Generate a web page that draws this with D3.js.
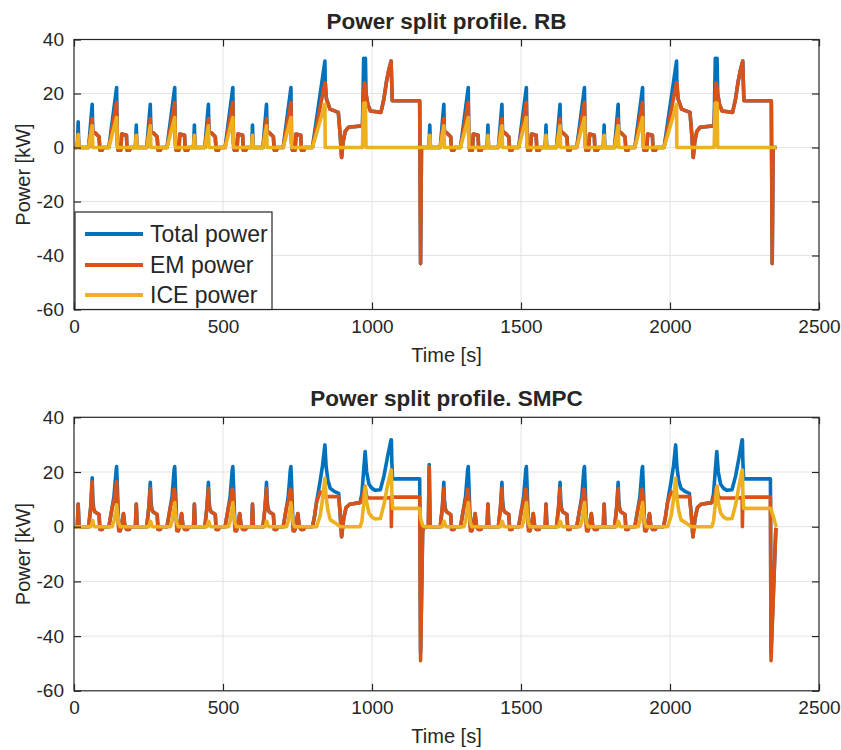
<!DOCTYPE html>
<html>
<head>
<meta charset="utf-8">
<script src="https://cdn.jsdelivr.net/npm/d3@7"></script>
<style>
  html, body { margin: 0; padding: 0; background: #ffffff; }
  svg { display: block; }
  text { font-family: "Liberation Sans", Arial, Helvetica, sans-serif; fill: #262626; }
</style>
</head>
<body>
<svg id="chart" width="841" height="750"></svg>
<script>
// ---------------- DATA ----------------
const xTicks = [0, 500, 1000, 1500, 2000, 2500];
const yTicks = [-60, -40, -20, 0, 20, 40];
const seriesNames = ["Total power", "EM power", "ICE power"];
const seriesColors = ["#0072BD", "#D95319", "#EDB120"];
const titles = ["Power split profile. RB", "Power split profile. SMPC"];

// ----- Rule based (RB) strategy: time [s] and power [kW]
const rbTime = [
  0,11,14,16,49,61,63,70,84,87,95,97,117,143,145,148,157,160,176,178,187,189,
  206,209,211,244,256,258,265,279,282,290,292,312,338,340,343,352,355,371,373,382,384,
  401,404,406,439,451,453,460,474,477,485,487,507,533,535,538,547,550,566,568,577,579,
  596,599,601,634,646,648,655,669,672,680,682,702,728,730,733,742,745,761,763,772,774,
  800,842,843,847,859,887,893,898,903,910,921,966,968,972,975,978,980,986,995,1030,1040,1048,1056,1064,1068,1160,1163,1166,
  1191,1194,1196,1229,1241,1243,1250,1264,1267,1275,1277,1297,1323,1325,1328,1337,1340,1356,1358,1367,1369,
  1386,1389,1391,1424,1436,1438,1445,1459,1462,1470,1472,1492,1518,1520,1523,1532,1535,1551,1553,1562,1564,
  1581,1584,1586,1619,1631,1633,1640,1654,1657,1665,1667,1687,1713,1715,1718,1727,1730,1746,1748,1757,1759,
  1776,1779,1781,1814,1826,1828,1835,1849,1852,1860,1862,1882,1908,1910,1913,1922,1925,1941,1943,1952,1954,
  1980,2022,2023,2027,2039,2067,2073,2078,2083,2090,2101,2146,2148,2152,2155,2158,2160,2166,2175,2210,2220,2228,2236,2244,2248,2340,2343,2346,2358
];
const rbTotal = [
  0,0,9.5,0,0,16,6,5.5,4,-1,-1,0,0,22.2,2,-1,-1,5,4.5,-1,-1,0,
  0,8.3,0,0,16,6,5.5,4,-1,-1,0,0,22.2,2,-1,-1,5,4.5,-1,-1,0,
  0,8.3,0,0,16,6,5.5,4,-1,-1,0,0,22.2,2,-1,-1,5,4.5,-1,-1,0,
  0,8.3,0,0,16,6,5.5,4,-1,-1,0,0,22.2,2,-1,-1,5,4.5,-1,-1,0,
  0,32,24,18,14.2,13,5,-3.7,2,6,7.5,8,8,33,31,33,20,16,13.5,13,18,24,28.5,32,17.3,17.3,-43,0,
  0,8.3,0,0,16,6,5.5,4,-1,-1,0,0,22.2,2,-1,-1,5,4.5,-1,-1,0,
  0,8.3,0,0,16,6,5.5,4,-1,-1,0,0,22.2,2,-1,-1,5,4.5,-1,-1,0,
  0,8.3,0,0,16,6,5.5,4,-1,-1,0,0,22.2,2,-1,-1,5,4.5,-1,-1,0,
  0,8.3,0,0,16,6,5.5,4,-1,-1,0,0,22.2,2,-1,-1,5,4.5,-1,-1,0,
  0,32,24,18,14.2,13,5,-3.7,2,6,7.5,8,8,33,31,33,20,16,13.5,13,18,24,28.5,32,17.3,17.3,-43,0,0
];
const rbEM = [
  0,0,5,0,0,10.7,6,5.5,4,-1,-1,0,0,16.7,2,-1,-1,5,4.5,-1,-1,0,
  0,4.5,0,0,10.7,6,5.5,4,-1,-1,0,0,16.7,2,-1,-1,5,4.5,-1,-1,0,
  0,4.5,0,0,10.7,6,5.5,4,-1,-1,0,0,16.7,2,-1,-1,5,4.5,-1,-1,0,
  0,4.5,0,0,10.7,6,5.5,4,-1,-1,0,0,16.7,2,-1,-1,5,4.5,-1,-1,0,
  0,24,24,18,14.2,13,5,-3.7,2,6,7.5,8,8,20,24,22,20,16,13.5,13,18,24,28.5,32,17.3,17.3,-43,0,
  0,4.5,0,0,10.7,6,5.5,4,-1,-1,0,0,16.7,2,-1,-1,5,4.5,-1,-1,0,
  0,4.5,0,0,10.7,6,5.5,4,-1,-1,0,0,16.7,2,-1,-1,5,4.5,-1,-1,0,
  0,4.5,0,0,10.7,6,5.5,4,-1,-1,0,0,16.7,2,-1,-1,5,4.5,-1,-1,0,
  0,4.5,0,0,10.7,6,5.5,4,-1,-1,0,0,16.7,2,-1,-1,5,4.5,-1,-1,0,
  0,24,24,18,14.2,13,5,-3.7,2,6,7.5,8,8,20,24,22,20,16,13.5,13,18,24,28.5,32,17.3,17.3,-43,0,0
];
const rbICE = [
  0,0,4.8,0,0,8,0,0,0,0,0,0,0,11.1,0,0,0,0,0,0,0,0,
  0,4.5,0,0,8,0,0,0,0,0,0,0,11.1,0,0,0,0,0,0,0,0,
  0,4.5,0,0,8,0,0,0,0,0,0,0,11.1,0,0,0,0,0,0,0,0,
  0,4.5,0,0,8,0,0,0,0,0,0,0,11.1,0,0,0,0,0,0,0,0,
  0,16,0,0,0,0,0,0,0,0,0,0,0,16.5,16.5,16.5,0,0,0,0,0,0,0,0,0,0,0,0,
  0,4.5,0,0,8,0,0,0,0,0,0,0,11.1,0,0,0,0,0,0,0,0,
  0,4.5,0,0,8,0,0,0,0,0,0,0,11.1,0,0,0,0,0,0,0,0,
  0,4.5,0,0,8,0,0,0,0,0,0,0,11.1,0,0,0,0,0,0,0,0,
  0,4.5,0,0,8,0,0,0,0,0,0,0,11.1,0,0,0,0,0,0,0,0,
  0,16,0,0,0,0,0,0,0,0,0,0,0,16.5,16.5,16.5,0,0,0,0,0,0,0,0,0,0,0,0,0
];

// ----- Stochastic MPC (SMPC) strategy: time [s] and power [kW]
const smpcTime = [
  0,11,14,17,49,56,61,63,66,70,84,87,95,97,117,128,134,141,143,146,150,155,159,166,171,177,186,188,
  206,209,212,244,251,256,258,261,265,279,282,290,292,312,323,329,336,338,341,345,350,354,361,366,372,381,383,
  401,404,407,439,446,451,453,456,460,474,477,485,487,507,518,524,531,533,536,540,545,549,556,561,567,576,578,
  596,599,602,634,641,646,648,651,655,669,672,680,682,702,713,719,726,728,731,735,740,744,751,756,762,771,773,
  800,806,814,826,834,842,846,852,860,875,888,893,898,905,913,925,960,966,972,977,982,990,1000,1011,1028,1040,1052,1064,1065,1066.5,1069,1160,1163,1170,1176,
  1189,1192,1195,1229,1236,1241,1243,1246,1250,1264,1267,1275,1277,1297,1308,1314,1321,1323,1326,1330,1335,1339,1346,1351,1357,1366,1368,
  1386,1389,1392,1424,1431,1436,1438,1441,1445,1459,1462,1470,1472,1492,1503,1509,1516,1518,1521,1525,1530,1534,1541,1546,1552,1561,1563,
  1581,1584,1587,1619,1626,1631,1633,1636,1640,1654,1657,1665,1667,1687,1698,1704,1711,1713,1716,1720,1725,1729,1736,1741,1747,1756,1758,
  1776,1779,1782,1814,1821,1826,1828,1831,1835,1849,1852,1860,1862,1882,1893,1899,1906,1908,1911,1915,1920,1924,1931,1936,1942,1951,1953,
  1978,1984,1992,2004,2012,2019,2023,2029,2037,2052,2065,2071,2077,2084,2092,2104,2140,2146,2152,2157,2162,2170,2180,2191,2208,2220,2232,2242,2243,2244.5,2247,2337,2339,2355,2358
];
const smpcTotal = [
  0,0,8.3,0,0,7,17.9,10,6.7,5.5,4.5,-1,-1,0,0,7,11,20,22,13,0,-1.5,0,4.8,0,-1,-1,0,
  0,8.3,0,0,7,16.2,9.8,6.7,5.5,4.5,-1,-1,0,0,7,11,20.8,22,13,0,-1.5,0,4.8,0,-1,-1,0,
  0,8.3,0,0,7,16.2,9.8,6.7,5.5,4.5,-1,-1,0,0,7,11,20.8,22,13,0,-1.5,0,4.8,0,-1,-1,0,
  0,8.3,0,0,7,16.2,9.8,6.7,5.5,4.5,-1,-1,0,0,7,11,20.8,22,13,0,-1.5,0,4.8,0,-1,-1,0,
  0,3,9,16.7,22.4,29.9,22,17,14,12.8,12.2,5,-3.7,3,7,8.2,8.8,12,20.5,27.5,20,15.5,14,13.3,13.5,18.5,25.5,31.8,31.8,24,17.5,17.5,-46,-1.5,0,
  0,22.7,0,0,7,16.2,9.8,6.7,5.5,4.5,-1,-1,0,0,7,11,20.8,22,13,0,-1.5,0,4.8,0,-1,-1,0,
  0,8.3,0,0,7,16.2,9.8,6.7,5.5,4.5,-1,-1,0,0,7,11,20.8,22,13,0,-1.5,0,4.8,0,-1,-1,0,
  0,8.3,0,0,7,16.2,9.8,6.7,5.5,4.5,-1,-1,0,0,7,11,20.8,22,13,0,-1.5,0,4.8,0,-1,-1,0,
  0,8.3,0,0,7,16.2,9.8,6.7,5.5,4.5,-1,-1,0,0,7,11,20.8,22,13,0,-1.5,0,4.8,0,-1,-1,0,
  0,3,9,16.7,22.4,29.9,22,17,14,12.8,12.2,5,-3.7,3,7,8.2,8.8,12,20.5,27.5,20,15.5,14,13.3,13.5,18.5,25.5,31.8,31.8,24,17.5,17.5,-46,-1.2,-0.5
];
const smpcEM = [
  0,0,8.3,0,0,7,16.4,8,6.2,5.5,4.5,-1,-1,0,0,7,9,15,16.5,8,-1.5,-1.5,0,4.8,0,-1,-1,0,
  0,8.3,0,0,7,14,8,6.2,5.5,4.5,-1,-1,0,0,7,9,13.8,13.2,8,-1.5,-1.5,0,4.8,0,-1,-1,0,
  0,8.3,0,0,7,14,8,6.2,5.5,4.5,-1,-1,0,0,7,9,13.8,13.2,8,-1.5,-1.5,0,4.8,0,-1,-1,0,
  0,8.3,0,0,7,14,8,6.2,5.5,4.5,-1,-1,0,0,7,9,13.8,13.2,8,-1.5,-1.5,0,4.8,0,-1,-1,0,
  0,3,9,12.7,12.4,12,11,11,11,11,11,5,-3.7,3,7,8.2,8.8,10,12.5,14.8,11,10.5,10.5,10.5,10.5,10.5,10.5,10.8,0,10.8,10.8,10.8,-49,-1.5,0,
  0,22,0,0,7,14,8,6.2,5.5,4.5,-1,-1,0,0,7,9,13.8,13.2,8,-1.5,-1.5,0,4.8,0,-1,-1,0,
  0,8.3,0,0,7,14,8,6.2,5.5,4.5,-1,-1,0,0,7,9,13.8,13.2,8,-1.5,-1.5,0,4.8,0,-1,-1,0,
  0,8.3,0,0,7,14,8,6.2,5.5,4.5,-1,-1,0,0,7,9,13.8,13.2,8,-1.5,-1.5,0,4.8,0,-1,-1,0,
  0,8.3,0,0,7,14,8,6.2,5.5,4.5,-1,-1,0,0,7,9,13.8,13.2,8,-1.5,-1.5,0,4.8,0,-1,-1,0,
  0,3,9,12.7,12.4,12,11,11,11,11,11,5,-3.7,3,7,8.2,8.8,10,12.5,14.8,11,10.5,10.5,10.5,10.5,10.5,10.5,10.8,0,10.8,10.8,10.8,-49,-1.2,-0.5
];
const smpcICE = [
  0,0,0,0,0,0,1.5,2.2,0.5,0,0,0,0,0,0,0,2,6,8,5,1.5,0,0,0,0,0,0,0,
  0,0,0,0,0,2,1.8,0.5,0,0,0,0,0,0,0,2,7,8.8,5,1.5,0,0,0,0,0,0,0,
  0,0,0,0,0,2,1.8,0.5,0,0,0,0,0,0,0,2,7,8.8,5,1.5,0,0,0,0,0,0,0,
  0,0,0,0,0,2,1.8,0.5,0,0,0,0,0,0,0,2,7,8.8,5,1.5,0,0,0,0,0,0,0,
  0,0,0,4,10,17.7,11,6,2.5,1.5,0.5,0,0,0,0,0,0,2,8,14.6,9,5,3.5,2.8,3,8,15,20.7,20.7,13,6.7,6.7,3,0.5,0,
  0,0,0,0,0,2,1.8,0.5,0,0,0,0,0,0,0,2,7,8.8,5,1.5,0,0,0,0,0,0,0,
  0,0,0,0,0,2,1.8,0.5,0,0,0,0,0,0,0,2,7,8.8,5,1.5,0,0,0,0,0,0,0,
  0,0,0,0,0,2,1.8,0.5,0,0,0,0,0,0,0,2,7,8.8,5,1.5,0,0,0,0,0,0,0,
  0,0,0,0,0,2,1.8,0.5,0,0,0,0,0,0,0,2,7,8.8,5,1.5,0,0,0,0,0,0,0,
  0,0,0,4,10,17.7,11,6,2.5,1.5,0.5,0,0,0,0,0,0,2,8,14.6,9,5,3.5,2.8,3,8,15,20.7,20.7,13,6.7,6.7,6.5,0.5,0
];

// ---------------- DRAWING ----------------
const svg = d3.select("#chart");
const panels = [
  { title: titles[0], top: 39.5, bottom: 309.5, time: rbTime, series: [rbTotal, rbEM, rbICE], legend: true },
  { title: titles[1], top: 417.3, bottom: 690.8, time: smpcTime, series: [smpcTotal, smpcEM, smpcICE], legend: false }
];
const left = 74, right = 819;
const axisColor = "#262626";
const gridColor = "#e3e3e3";

panels.forEach((p, pi) => {
  const x = d3.scaleLinear().domain([0, 2500]).range([left, right]);
  const y = d3.scaleLinear().domain([-60, 40]).range([p.bottom, p.top]);
  const g = svg.append("g");

  // grid
  g.selectAll(".gx").data(xTicks.slice(1, -1)).enter().append("line")
    .attr("x1", d => x(d)).attr("x2", d => x(d))
    .attr("y1", p.top).attr("y2", p.bottom)
    .attr("stroke", gridColor).attr("stroke-width", 1);
  g.selectAll(".gy").data(yTicks.slice(1, -1)).enter().append("line")
    .attr("x1", left).attr("x2", right)
    .attr("y1", d => y(d)).attr("y2", d => y(d))
    .attr("stroke", gridColor).attr("stroke-width", 1);

  // lines
  const clipId = "clip" + pi;
  svg.append("clipPath").attr("id", clipId).append("rect")
    .attr("x", left).attr("y", p.top).attr("width", right - left).attr("height", p.bottom - p.top);
  const line = d3.line().x(d => x(d[0])).y(d => y(d[1]));
  const lg = g.append("g").attr("clip-path", `url(#${clipId})`);
  p.series.forEach((vals, si) => {
    lg.append("path")
      .datum(d3.zip(p.time, vals))
      .attr("d", line)
      .attr("fill", "none")
      .attr("stroke", seriesColors[si])
      .attr("stroke-width", 3.6)
      .attr("stroke-linejoin", "round")
      .attr("stroke-linecap", "butt");
  });

  // axes (ticks inside)
  const fmt = d => String(d);
  const ax = g.append("g").attr("transform", `translate(0,${p.bottom})`)
    .call(d3.axisBottom(x).tickValues(xTicks).tickFormat(fmt).tickSize(-7).tickSizeOuter(0).tickPadding(10));
  const axTop = g.append("g").attr("transform", `translate(0,${p.top})`)
    .call(d3.axisTop(x).tickValues(xTicks).tickFormat("").tickSize(-7).tickSizeOuter(0));
  const ay = g.append("g").attr("transform", `translate(${left},0)`)
    .call(d3.axisLeft(y).tickValues(yTicks).tickFormat(fmt).tickSize(-7).tickSizeOuter(0).tickPadding(10));
  const ayR = g.append("g").attr("transform", `translate(${right},0)`)
    .call(d3.axisRight(y).tickValues(yTicks).tickFormat("").tickSize(-7).tickSizeOuter(0));
  [ax, axTop, ay, ayR].forEach(a => {
    a.select(".domain").remove();
    a.selectAll(".tick line").attr("stroke", axisColor).attr("stroke-width", 1.2);
    a.selectAll(".tick text").attr("fill", axisColor).style("font-size", "19px")
      .style("font-family", '"Liberation Sans", Arial, Helvetica, sans-serif');
  });

  // box
  g.append("rect").attr("x", left).attr("y", p.top).attr("width", right - left).attr("height", p.bottom - p.top)
    .attr("fill", "none").attr("stroke", axisColor).attr("stroke-width", 1.2);

  // title and labels
  g.append("text").attr("x", (left + right) / 2).attr("y", p.top - 11)
    .attr("text-anchor", "middle").style("font-size", "22.5px").style("font-weight", "bold")
    .text(p.title);
  g.append("text").attr("x", (left + right) / 2).attr("y", p.bottom + 52)
    .attr("text-anchor", "middle").style("font-size", "20px").text("Time [s]");
  g.append("text")
    .attr("transform", `translate(30,${(p.top + p.bottom) / 2}) rotate(-90)`)
    .attr("text-anchor", "middle").style("font-size", "20px").text("Power [kW]");

  // legend
  if (p.legend) {
    const lx = 75, ly = 212, lw = 197, lh = p.bottom - 212;
    const leg = g.append("g");
    leg.append("rect").attr("x", lx).attr("y", ly).attr("width", lw).attr("height", lh)
      .attr("fill", "#ffffff").attr("stroke", axisColor).attr("stroke-width", 1.2);
    const rowY = [234, 265, 295];
    seriesNames.forEach((name, i) => {
      leg.append("line").attr("x1", 85).attr("x2", 143).attr("y1", rowY[i]).attr("y2", rowY[i])
        .attr("stroke", seriesColors[i]).attr("stroke-width", 3.8);
      leg.append("text").attr("x", 150).attr("y", rowY[i]).attr("dy", "0.35em")
        .style("font-size", "23px").text(name);
    });
  }
});
</script>
</body>
</html>
